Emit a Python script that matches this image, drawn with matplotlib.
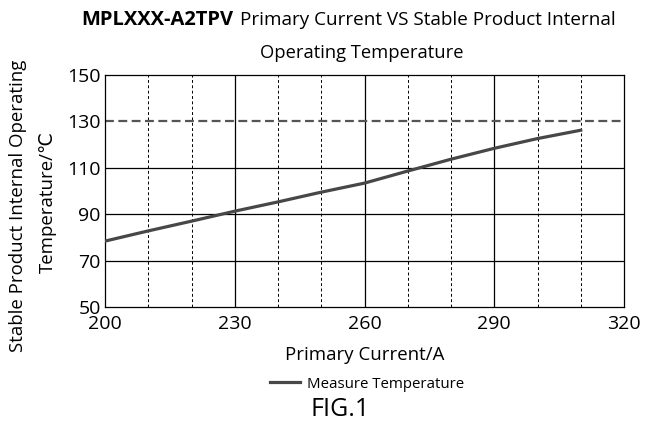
import numpy as np
import matplotlib
matplotlib.use('Agg')
import matplotlib.pyplot as plt

plt.rcParams['font.family'] = ['Open Sans', 'DejaVu Sans']

current = [200, 210, 220, 230, 240, 250, 260, 270, 280, 290, 300, 310]
temp = [78.4, 82.8, 87.0, 91.3, 95.3, 99.5, 103.4, 108.6, 113.7, 118.4, 122.6, 126.2]
limit_temp = 130
x_major = [200, 230, 260, 290, 320]
x_minor = [210, 220, 240, 250, 270, 280, 300, 310]
y_ticks = [50, 70, 90, 110, 130, 150]

W, H = 646, 426
fig = plt.figure(figsize=(W/100, H/100), dpi=100)
ax = fig.add_axes([105/W, 1-307/H, (624-105)/W, (307-75)/H])

ax.set_xlim(200, 320)
ax.set_ylim(50, 150)
ax.set_xticks(x_major)
ax.set_yticks(y_ticks)
ax.tick_params(axis='y', length=0, labelsize=14, pad=3)
ax.tick_params(axis='x', length=0, labelsize=14, pad=6)

for xv in x_major[1:-1]:
    ax.axvline(xv, color='black', lw=0.9, zorder=1)
for xv in x_minor:
    ax.axvline(xv, color='black', lw=0.7, ls=(0, (3, 2.5)), zorder=1)
for yv in [70, 90, 110]:
    ax.axhline(yv, color='black', lw=0.9, zorder=1)
ax.axhline(limit_temp, color='#555555', lw=1.6, ls=(0, (4, 2)), zorder=2)

line, = ax.plot(current, temp, color='#474747', lw=2.3, zorder=3, label='Measure Temperature')

for s in ax.spines.values():
    s.set_linewidth(0.9)

ax.set_xlabel('Primary Current/A', fontsize=13.4, labelpad=9)
fig.text(18/W, 1-206/H, 'Stable Product Internal Operating', rotation=90,
         ha='center', va='center', fontsize=13.4)
fig.text(48/W, 1-202/H, 'Temperature/\u2103', rotation=90,
         ha='center', va='center', fontsize=13.4)

fig.text(233/W, 1-20/H, 'MPLXXX-A2TPV', ha='right', va='center',
         fontsize=14.5, fontweight='bold')
fig.text(240/W, 1-20/H, 'Primary Current VS Stable Product Internal',
         ha='left', va='center', fontsize=13.6)
fig.text(362/W, 1-53/H, 'Operating Temperature', ha='center', va='center', fontsize=13.2)

fig.legend(handles=[line], loc='center', bbox_to_anchor=(367/W, 1-384/H),
           frameon=False, fontsize=10.8, handlelength=2.0, handletextpad=0.5)
fig.text(340/W, 1-410/H, 'FIG.1', ha='center', va='center', fontsize=18)

fig.savefig('out.png', dpi=100)
